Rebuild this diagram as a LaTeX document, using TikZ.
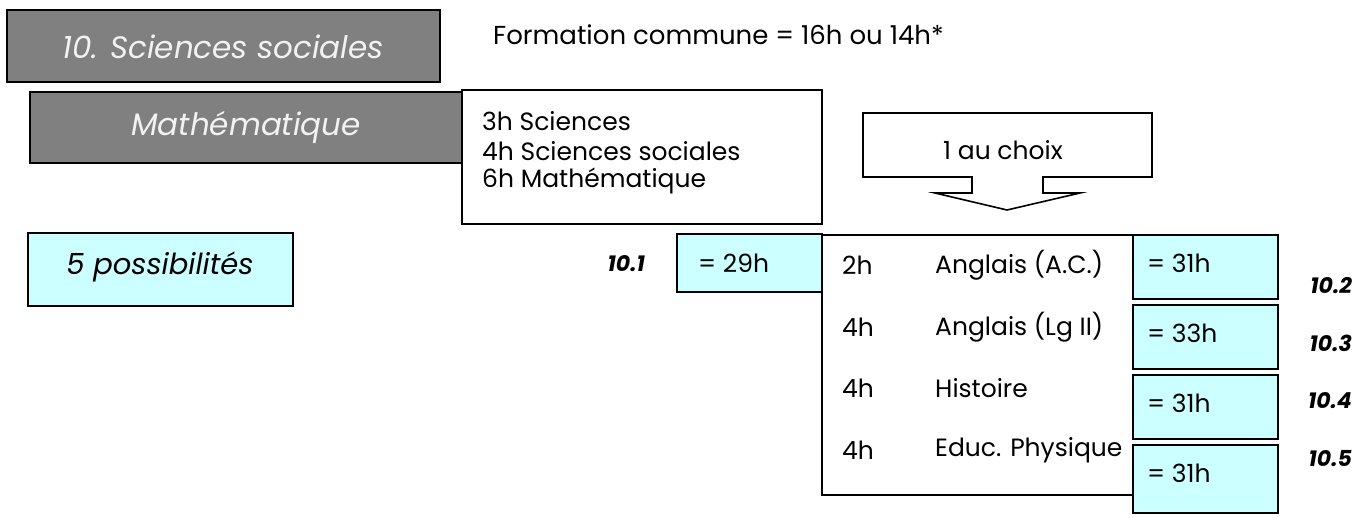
\documentclass[tikz,border=0pt]{standalone}
\usepackage{fontspec}
\setmainfont{Poppins}
\definecolor{boxgray}{HTML}{808080}
\definecolor{lightcyan}{HTML}{CCFFFF}
\definecolor{titletext}{HTML}{F2F2F2}
\begin{document}
\begin{tikzpicture}[x=1pt,y=-1pt,
  rbox/.style={anchor=north west, inner sep=0pt, outer sep=0pt, line width=1.6pt, draw=black},
  graybox/.style={rbox, fill=boxgray},
  whitebox/.style={rbox, fill=white},
  cyanbox/.style={rbox, fill=lightcyan},
  edge/.style={line width=1.6pt, draw=black},
  titletxt/.style={font=\fontsize{31}{36}\selectfont\itshape, text=titletext, inner sep=0pt},
  bodytxt/.style={font=\fontsize{25}{30}\selectfont, inner sep=0pt, anchor=west},
  labtxt/.style={font=\fontsize{22}{26}\selectfont\bfseries\itshape, inner sep=0pt},
  possib/.style={font=\fontsize{29}{34}\selectfont\itshape, inner sep=0pt}
]
\useasboundingbox (0,0) rectangle (1358,517);
% gray title boxes
\node[graybox, minimum width=433pt, minimum height=72pt] (b1) at (7,10) {};
\node[titletxt] (t1) at (223,47) {10. Sciences sociales};
\node[graybox, minimum width=450pt, minimum height=71pt] (b2) at (30,92) {};
\node[titletxt] (t2) at (246,127) {Mathématique};
% common formation
\node[bodytxt, font=\fontsize{26}{30}\selectfont] (fc) at (493,35) {Formation commune = 16h ou 14h*};
\node[whitebox, minimum width=360pt, minimum height=134pt] (b3) at (462,90) {};
\node[bodytxt] (l1) at (482,121) {3h Sciences};
\node[bodytxt] (l2) at (482,151) {4h Sciences sociales};
\node[bodytxt] (l3) at (482,181) {6h Mathématique};
% callout
\draw[edge, fill=white] (863,113) -- (1152,113) -- (1152,177) -- (1043,177) -- (1043,193)
  -- (1080,193) -- (1007,210) -- (935,193) -- (972,193) -- (972,177) -- (863,177) -- cycle;
\node[bodytxt, anchor=center] (ch) at (1003,150) {1 au choix};
% possibilities
\node[cyanbox, minimum width=265pt, minimum height=73pt] (b5) at (28,233) {};
\node[possib] (t5) at (160,267) {5 possibilités};
\node[labtxt, anchor=east] (n1) at (645,264) {10.1};
\node[cyanbox, minimum width=145pt, minimum height=58pt] (c0) at (677,234) {};
\node[bodytxt] (c0t) at (698,263) {= 29h};
% list box (right side hidden under the result boxes)
\node[anchor=north west, inner sep=0pt, outer sep=0pt, fill=white, minimum width=318pt, minimum height=260pt] (lb) at (822,235) {};
\draw[edge] (lb.north east) -- (lb.north west) -- (lb.south west) -- (lb.south east);
\foreach \yy/\hh/\ss [count=\i] in {265/2h/Anglais (A.C.), 327/4h/Anglais (Lg II), 388/4h/Histoire, 450/4h/Educ. Physique}{
  \node[bodytxt] (h\i) at (842,\yy) {\hh};
  \node[bodytxt] (s\i) at (935,\yy) {\ss};
}
% cyan result boxes
\node[cyanbox, minimum width=145pt, minimum height=64pt] (c1) at (1133,235) {};
\node[cyanbox, minimum width=145pt, minimum height=64pt] (c2) at (1133,305) {};
\node[cyanbox, minimum width=145pt, minimum height=64pt] (c3) at (1133,375) {};
\node[cyanbox, minimum width=145pt, minimum height=68pt] (c4) at (1133,445) {};
\node[bodytxt] (c1t) at (1147,263) {= 31h};
\node[bodytxt] (c2t) at (1147,333) {= 33h};
\node[bodytxt] (c3t) at (1147,403) {= 31h};
\node[bodytxt] (c4t) at (1147,473) {= 31h};
\node[labtxt, anchor=east] (n2) at (1352,286) {10.2};
\node[labtxt, anchor=east] (n3) at (1352,343) {10.3};
\node[labtxt, anchor=east] (n4) at (1352,401) {10.4};
\node[labtxt, anchor=east] (n5) at (1352,459) {10.5};
\end{tikzpicture}
\end{document}
